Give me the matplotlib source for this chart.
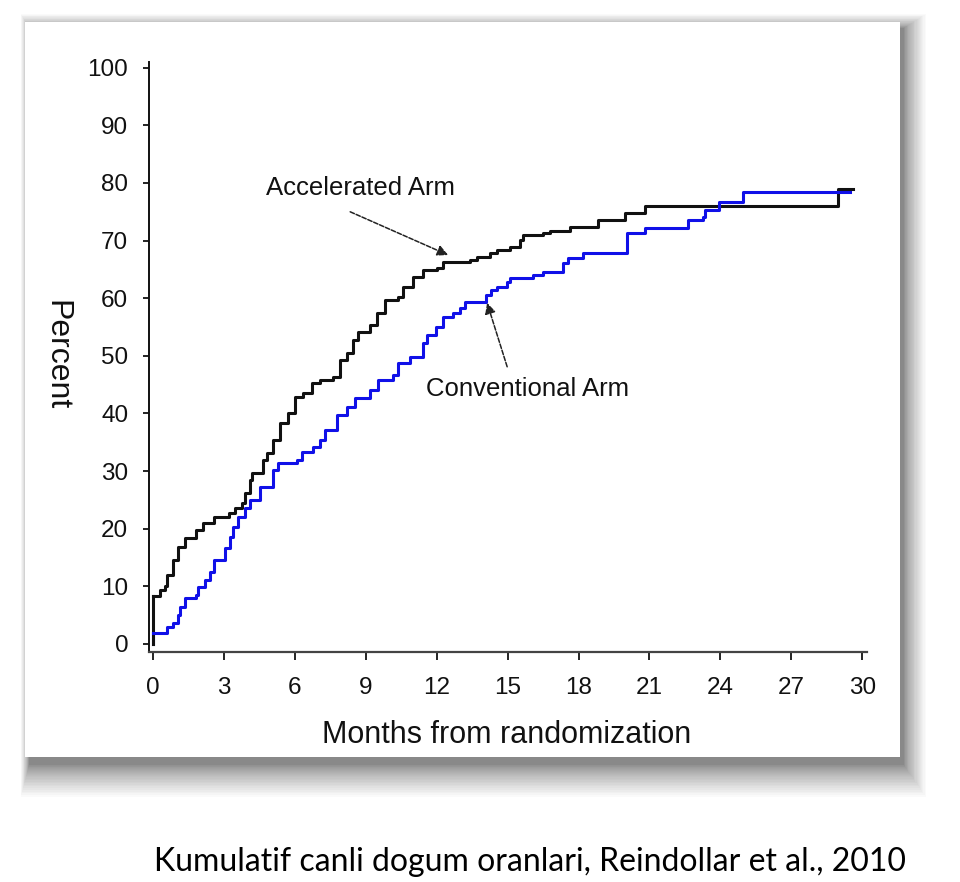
import matplotlib
matplotlib.use("Agg")
import matplotlib.pyplot as plt
from matplotlib.patches import Rectangle

# ---------------- data ----------------
accel_months = [0.0, 0.3, 0.5, 0.6, 0.85, 1.05, 1.35, 1.8, 2.1, 2.6, 3.2, 3.45, 3.75, 3.9,
                4.1, 4.2, 4.65, 4.82, 5.08, 5.37, 5.71, 6.0, 6.35, 6.73, 7.07, 7.6, 7.91,
                8.2, 8.46, 8.68, 9.18, 9.48, 9.82, 10.37, 10.58, 11.0, 11.43, 12.02, 12.27,
                13.4, 13.7, 14.26, 14.56, 15.1, 15.53, 15.66, 16.5, 16.8, 17.65, 18.83,
                19.97, 20.82, 28.99, 29.6]
accel_pct = [8.3, 9.4, 10.0, 12.0, 14.6, 16.9, 18.4, 19.8, 21.0, 22.0, 22.7, 23.6, 24.5, 26.2,
             28.5, 29.7, 32.0, 33.2, 35.4, 38.4, 40.1, 42.9, 43.6, 45.3, 45.8, 46.4, 49.3,
             50.5, 52.8, 54.2, 55.4, 57.5, 59.7, 60.2, 62.0, 63.7, 64.9, 65.3, 66.3,
             66.7, 67.2, 67.9, 68.4, 68.9, 70.1, 71.0, 71.3, 71.6, 72.4, 73.6,
             74.8, 76.0, 79.0, 79.0]

conv_months = [0.0, 0.6, 0.85, 1.05, 1.15, 1.35, 1.8, 1.9, 2.2, 2.4, 2.6, 3.05, 3.25, 3.4,
               3.6, 3.9, 4.1, 4.53, 5.08, 5.3, 6.1, 6.3, 6.77, 7.07, 7.28, 7.78, 8.2, 8.55,
               9.18, 9.52, 10.15, 10.37, 10.87, 11.4, 11.6, 11.95, 12.25, 12.7, 13.0, 13.2,
               14.1, 14.3, 14.56, 14.98, 15.1, 16.08, 16.5, 17.35, 17.55, 18.2, 20.05,
               20.82, 22.64, 23.28, 23.35, 23.95, 24.97, 29.5]
conv_pct = [1.9, 3.0, 3.6, 5.0, 6.4, 8.0, 8.5, 9.9, 11.1, 12.5, 14.6, 16.7, 18.6, 20.3,
            22.0, 23.6, 25.0, 27.3, 30.2, 31.4, 31.9, 33.3, 34.2, 35.4, 37.2, 39.8, 41.1, 42.7,
            44.1, 45.8, 46.7, 48.8, 49.8, 52.3, 53.6, 55.0, 56.8, 57.4, 58.3, 59.4,
            60.6, 61.5, 62.0, 62.8, 63.5, 64.0, 64.6, 66.1, 67.0, 67.9, 71.4,
            72.2, 73.6, 74.1, 75.3, 76.7, 78.5, 78.5]

x_ticks = [0, 3, 6, 9, 12, 15, 18, 21, 24, 27, 30]
y_ticks = [0, 10, 20, 30, 40, 50, 60, 70, 80, 90, 100]

accel_label = "Accelerated Arm"
conv_label = "Conventional Arm"
caption = "Kumulatif canli dogum oranlari, Reindollar et al., 2010"

# ---------------- figure ----------------
W, H = 960, 882
fig = plt.figure(figsize=(W / 100, H / 100), dpi=100)
fig.patch.set_facecolor("white")

def px_rect(x0, y0, x1, y1, **kw):
    # rectangle given in pixel coords (origin top-left)
    return Rectangle((x0 / W, 1 - y1 / H), (x1 - x0) / W, (y1 - y0) / H,
                     transform=fig.transFigure, **kw)

# soft drop shadow of the panel (layers spaced so that it fades smoothly)
px0, py0, px1, py1 = 25, 22, 900, 757
n_layers = 28
for k in range(n_layers):
    t = (k / (n_layers - 1)) ** 1.6
    fig.add_artist(px_rect(px0 + 4 - 8 * t, py0 + 6 - 14 * t,
                           px1 + 4 + 22 * t, py1 + 8 + 32 * t,
                           facecolor="black", edgecolor="none", alpha=0.018, zorder=0))
fig.add_artist(px_rect(px0, py0, px1, py1, facecolor="white", edgecolor="none", zorder=0.5))

# axes placement (pixels): spine left x=149, right 867, bottom y=652, top 62
ax = fig.add_axes([149 / W, 1 - 652 / H, (867 - 149) / W, (652 - 62) / H])
ax.set_zorder(2)
ax.set_facecolor("none")

ax.step(accel_months, accel_pct, where="post", color="#111111", lw=2.2, zorder=3)
ax.plot([0, 0], [0, accel_pct[0]], color="#111111", lw=2.2, zorder=3)
ax.step(conv_months, conv_pct, where="post", color="#1010e8", lw=2.2, zorder=3)
ax.plot([0, 0], [0, conv_pct[0]], color="#1010e8", lw=2.2, zorder=2.5)

ax.set_xlim(-0.17, 30.2)
ax.set_ylim(-1.4, 101)
ax.set_xticks(x_ticks)
ax.set_yticks(y_ticks)

for s in ["top", "right"]:
    ax.spines[s].set_visible(False)
ax.spines["left"].set_linewidth(1.4)
ax.spines["left"].set_color("#111111")
ax.spines["bottom"].set_linewidth(1.6)
ax.spines["bottom"].set_color("#444444")

tick_font = dict(family=["Liberation Sans", "DejaVu Sans"], size=17.5)
ax.tick_params(axis="y", direction="out", length=4, width=1.3, pad=11, colors="#111111")
ax.tick_params(axis="x", direction="out", length=6, width=1.3, pad=12, colors="#111111")
for lab in ax.get_xticklabels() + ax.get_yticklabels():
    lab.set_fontfamily(tick_font["family"])
    lab.set_fontsize(tick_font["size"])

# axis labels
fig.text(507 / W, 1 - 735 / H, "Months from randomization",
         family=["Liberation Sans", "DejaVu Sans"], size=22, ha="center", va="center",
         color="#111111")
fig.text(56 / W, 1 - 355 / H, "Percent", family=["Liberation Sans", "DejaVu Sans"],
         size=23, rotation=270, ha="center", va="center", color="#111111")

# annotations
ann_font = dict(family=["Liberation Sans", "DejaVu Sans"], size=18.5, color="#111111")
ax.text(4.78, 79.2, accel_label, ha="left", va="center", **ann_font)
ax.annotate("", xy=(12.48, 67.5), xytext=(8.34, 75.0),
            arrowprops=dict(arrowstyle="-|>", lw=1.1, color="#222222",
                            linestyle=(0, (3, 1.2)), mutation_scale=16,
                            shrinkA=0, shrinkB=0))
ax.text(11.55, 44.3, conv_label, ha="left", va="center", **ann_font)
ax.annotate("", xy=(14.13, 59.2), xytext=(14.98, 48.1),
            arrowprops=dict(arrowstyle="-|>", lw=1.1, color="#222222",
                            linestyle=(0, (3, 1.2)), mutation_scale=16,
                            shrinkA=0, shrinkB=0))

# caption
fig.text(530 / W, 1 - 862 / H, caption, family=["Lato", "DejaVu Sans"], size=23,
         ha="center", va="center", color="black")

fig.savefig("out.png", dpi=100)
